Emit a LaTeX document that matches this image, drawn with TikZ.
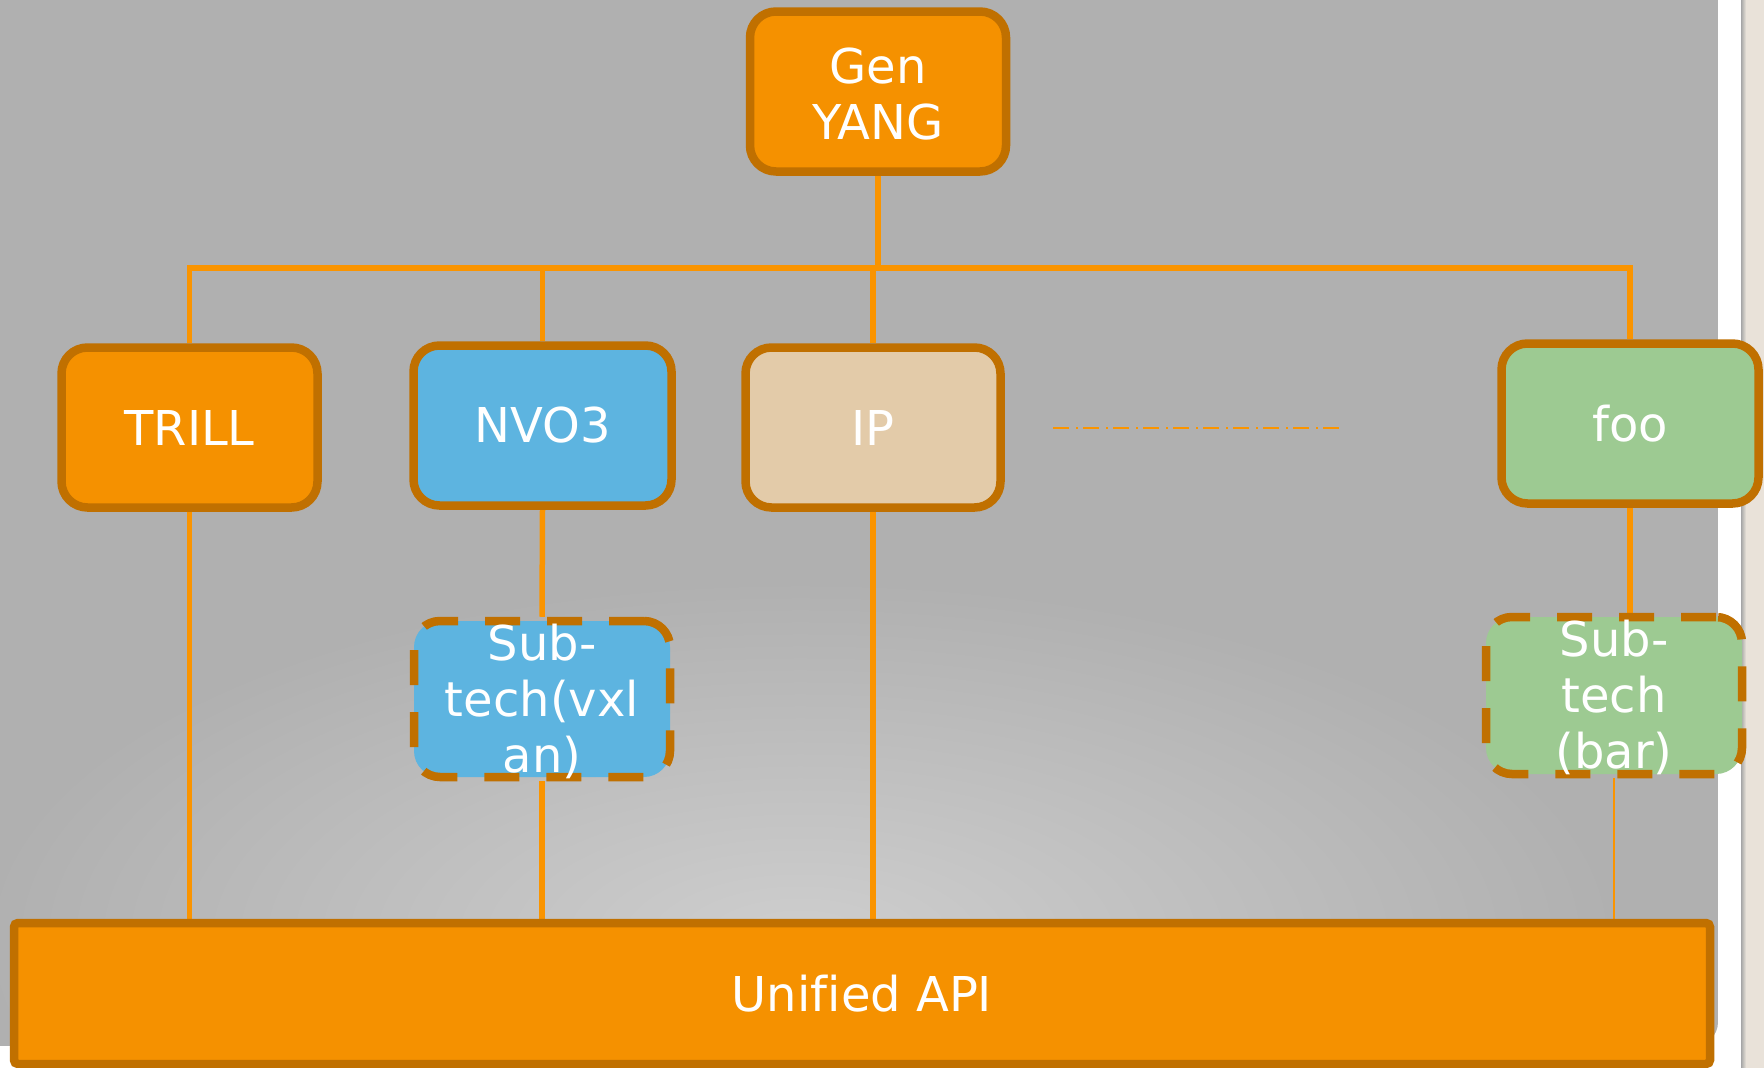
\documentclass[tikz,border=0pt]{standalone}
\usepackage{fontspec}
\setmainfont[Ligatures=NoCommon]{DejaVu Sans}
\definecolor{bggray}{HTML}{B0B0B0}
\definecolor{bglight}{HTML}{CECECE}
\definecolor{boxor}{HTML}{F59100}
\definecolor{brd}{HTML}{C07000}
\definecolor{lineor}{HTML}{FA9400}
\definecolor{nvoc}{HTML}{5DB4E0}
\definecolor{ipc}{HTML}{E3CBA9}
\definecolor{fooc}{HTML}{9DCA92}
\definecolor{beige}{HTML}{E9E2D9}
\pgfdeclarelayer{bg}
\pgfdeclarelayer{wires}
\pgfsetlayers{bg,wires,main}
\begin{document}
\begin{tikzpicture}[x=1pt,y=-1pt,
  box/.style={draw=brd, line width=8.5pt, rounded corners=26pt, minimum width=256pt,
    minimum height=160pt, inner sep=0pt, text=white, font=\fontsize{48}{56}\selectfont, align=center},
  dbox/.style={box, dash pattern=on 35pt off 27pt},
  lbl/.style={text=white, font=\fontsize{48}{56}\selectfont, align=center, inner sep=0pt},
  conn/.style={draw=lineor, line width=5.5pt},
  thinconn/.style={draw=lineor, line width=2pt}]
\useasboundingbox (0,0) rectangle (1764,1068);

% nodes
\node[box, fill=boxor] (gen) at (878,91.5) {};
\node[lbl] (genl) at (878,94) {Gen\\YANG};
\node[box, fill=boxor] (trill) at (189.5,427.5) {TRILL};
\node[box, fill=nvoc, minimum width=258pt] (nvo) at (542.5,425.5) {NVO3};
\node[box, fill=ipc, minimum width=255pt] (ip) at (873,427.5) {IP};
\node[box, fill=fooc, minimum width=257pt] (foo) at (1630,423.5) {foo};
\node[dbox, fill=nvoc, minimum height=156pt] (vxlan) at (542,699) {};
\node[lbl] (vxlanl) at (542,701) {Sub-\\tech(vxl\\an)};
\node[dbox, fill=fooc, minimum height=157pt] (bar) at (1614,695.5) {};
\node[lbl] (barl) at (1614,697.5) {Sub-\\tech\\(bar)};
\node[box, fill=boxor, rounded corners=4pt, minimum width=1696pt, minimum height=141pt] (api) at (862,993.5) {Unified API};

% background
\begin{pgfonlayer}{bg}
\fill[white] (0,0) rectangle (1764,1068);
\fill[beige] (1742,0) rectangle (1764,1068);
\shade[left color=black!35, right color=beige] (1741,0) rectangle (1746,1068);
\begin{scope}
\clip (0,-30) -- (1718,-30) [rounded corners=24pt] -- (1718,1046) [sharp corners] -- (0,1046) -- cycle;
\fill[bggray] (0,-30) rectangle (1718,1046);
\shade[inner color=bglight, outer color=bggray] (800,940) ellipse [x radius=820, y radius=360];
\end{scope}
\end{pgfonlayer}

% connectors
\begin{pgfonlayer}{wires}
\coordinate (busy) at (0,268);
\draw[conn] (trill.north) -- (trill.north |- busy) -- (foo.north |- busy) -- (foo.north);
\draw[conn] (gen.south) -- (gen.south |- busy);
\draw[conn] (nvo.north) -- (nvo.north |- busy);
\draw[conn] (ip.north) -- (ip.north |- busy);
\draw[conn] (trill.south) -- (trill.south |- api.north);
\draw[conn] (nvo.south) -- (vxlan.north);
\draw[conn] (vxlan.south) -- (vxlan.south |- api.north);
\draw[conn] (ip.south) -- (ip.south |- api.north);
\draw[conn] (foo.south) -- (bar.north -| foo.south);
\draw[thinconn] (bar.south) -- (bar.south |- api.north);
\end{pgfonlayer}

\coordinate (dd1) at (1053,428);
\coordinate (dd2) at (1340,428);
\draw[lineor, line width=2pt, dash pattern=on 16pt off 7pt on 2pt off 5pt] (dd1) -- (dd2);
\end{tikzpicture}
\end{document}
